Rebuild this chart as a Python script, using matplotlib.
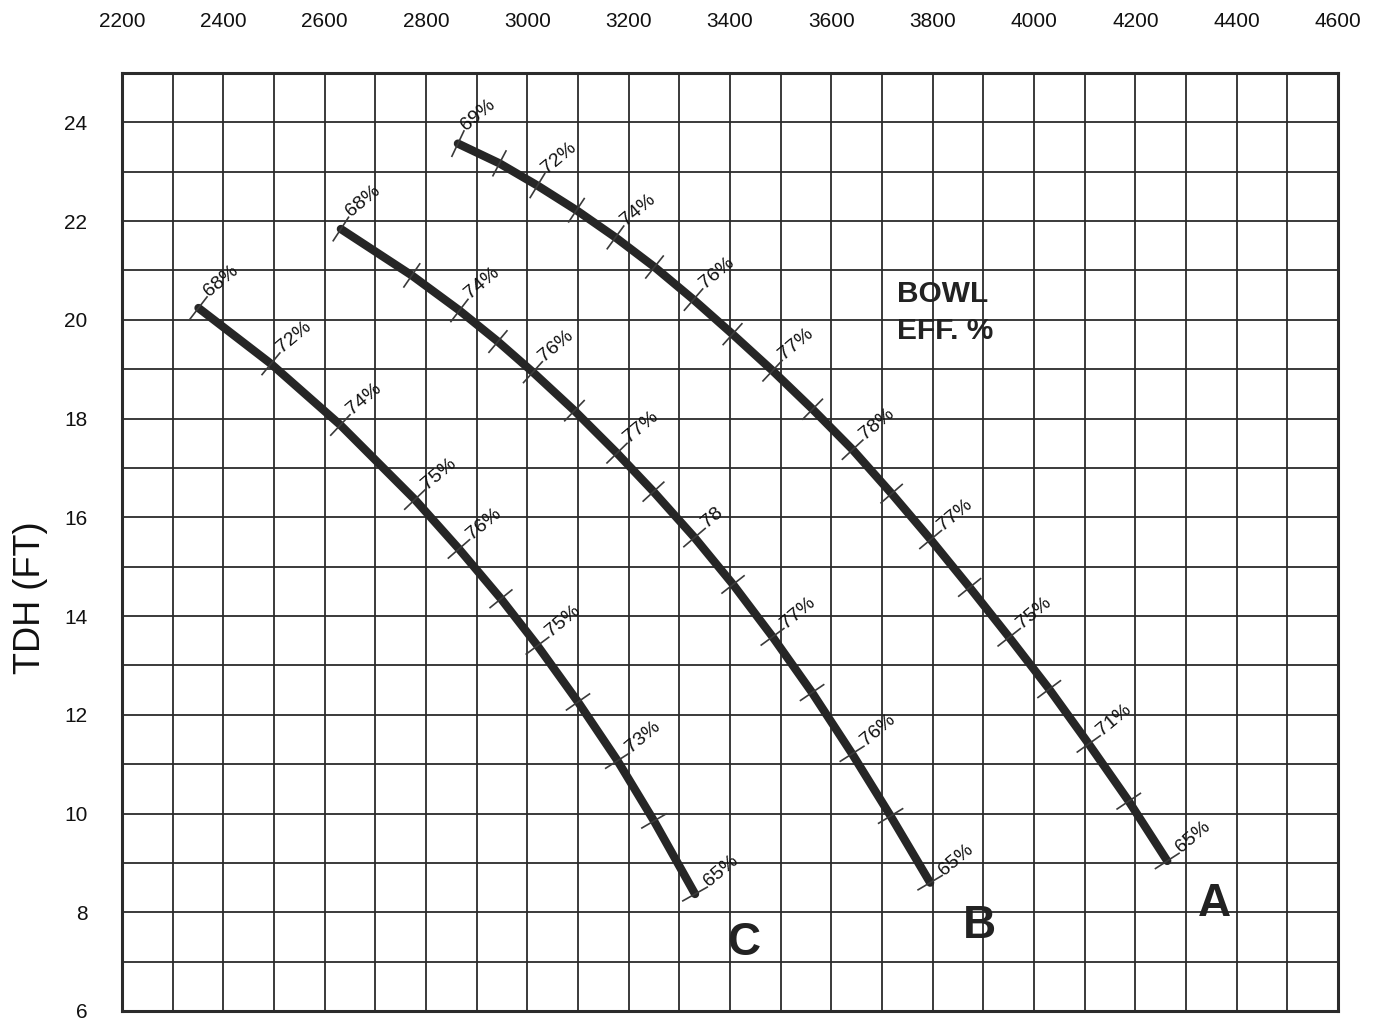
import numpy as np
import matplotlib
matplotlib.use("Agg")
from matplotlib import pyplot as plt
from matplotlib import font_manager

# curve A
flow_a = [2863, 2945, 3020, 3097, 3174, 3251, 3328, 3405, 3484, 3563,
          3642, 3719, 3796, 3873, 3951, 4030, 4108, 4187, 4263]
head_a = [23.57, 23.17, 22.72, 22.22, 21.67, 21.07, 20.41, 19.71, 18.97, 18.19,
          17.37, 16.48, 15.55, 14.58, 13.57, 12.52, 11.41, 10.25, 9.04]
eff_a = ["69%", None, "72%", None, "74%", None, "76%", None, "77%", None,
         "78%", None, "77%", None, "75%", None, "71%", None, "65%"]

# curve B
flow_b = [2632, 2772, 2866, 2942, 3011, 3093, 3177, 3249, 3330, 3406,
          3484, 3562, 3641, 3717, 3795]
head_b = [21.84, 20.90, 20.19, 19.56, 18.94, 18.16, 17.30, 16.52, 15.59, 14.64,
          13.58, 12.45, 11.21, 9.95, 8.60]
eff_b = ["68%", None, "74%", None, "76%", None, "77%", None, "78", None,
         "77%", None, "76%", None, "65%"]

# curve C
flow_c = [2351, 2494, 2631, 2778, 2865, 2948, 3020, 3100, 3178, 3250, 3331]
head_c = [20.24, 19.11, 17.87, 16.36, 15.36, 14.35, 13.40, 12.26, 11.07, 9.85, 8.37]
eff_c = ["68%", "72%", "74%", "75%", "76%", None, "75%", None, "73%", None, "65%"]

x_ticks = list(range(2200, 4601, 200))
y_ticks = list(range(6, 25, 2))

names = {f.name for f in font_manager.fontManager.ttflist}
narrow = "Liberation Sans Narrow" if "Liberation Sans Narrow" in names else "Liberation Sans"

ink = "#2b2b2b"

fig = plt.figure(figsize=(13.77, 10.24), dpi=100)
ax = fig.add_axes([122 / 1377, 13 / 1024, 1216 / 1377, 938 / 1024])
ax.set_xlim(2200, 4600)
ax.set_ylim(6, 25)

# grid paper
for gx in range(2200, 4601, 100):
    ax.axvline(gx, color=ink, lw=1.3, zorder=1)
for gy in range(6, 26):
    ax.axhline(gy, color=ink, lw=1.3, zorder=1)
for s in ax.spines.values():
    s.set_linewidth(2.2)
    s.set_color(ink)

ax.xaxis.tick_top()
ax.set_xticks(x_ticks)
ax.set_yticks(y_ticks)
ax.tick_params(axis="x", length=0, pad=30, labelsize=15)
ax.tick_params(axis="y", length=0, pad=25, labelsize=15)
for lab in ax.get_xticklabels() + ax.get_yticklabels():
    lab.set_family(narrow)
    lab.set_color("#111111")

fig.text(30 / 1377, 1 - 598 / 1024, "TDH (FT)", rotation=90, ha="center",
         va="center", fontsize=26, family="Liberation Sans", color="#111111")


def draw_curve(flow, head, effs):
    flow = np.asarray(flow, float)
    head = np.asarray(head, float)
    ax.plot(flow, head, color="#262626", lw=6, solid_capstyle="round",
            solid_joinstyle="round", zorder=3)

    pts = ax.transData.transform(np.column_stack([flow, head]))
    dx = np.gradient(pts[:, 0])
    dy = np.gradient(pts[:, 1])
    norm = np.hypot(dx, dy)
    # normal pointing up-right
    nx, ny = -dy / norm, dx / norm
    flip = nx < 0
    nx[flip] *= -1
    ny[flip] *= -1

    inv = ax.transData.inverted()
    for i in range(len(flow)):
        p0 = pts[i] - 14 * np.array([nx[i], ny[i]])
        p1 = pts[i] + 14 * np.array([nx[i], ny[i]])
        seg = inv.transform(np.array([p0, p1]))
        ax.plot(seg[:, 0], seg[:, 1], color="#3a3a3a", lw=1.2, zorder=4)
        if effs[i]:
            ax.annotate(effs[i], xy=(flow[i], head[i]),
                        xytext=(nx[i] * 14 + 2, ny[i] * 14),
                        textcoords="offset pixels", rotation=40,
                        rotation_mode="anchor", ha="left", va="baseline",
                        fontsize=14, family=narrow, color="#111111", zorder=5)


draw_curve(flow_a, head_a, eff_a)
draw_curve(flow_b, head_b, eff_b)
draw_curve(flow_c, head_c, eff_c)

ax.text(3730, 20.37, "BOWL", ha="left", va="baseline", fontsize=21.5,
        fontweight="bold", family="Liberation Sans", color="#222222", zorder=5)
ax.text(3730, 19.61, "EFF. %", ha="left", va="baseline", fontsize=21.5,
        fontweight="bold", family="Liberation Sans", color="#222222", zorder=5)

for letter, lx, ly in [("A", 4357, 7.93), ("B", 3893, 7.47), ("C", 3427, 7.14)]:
    ax.text(lx, ly, letter, ha="center", va="baseline", fontsize=33,
            fontweight="bold", family="Liberation Sans", color="#222222", zorder=5)

fig.savefig("out.png", dpi=100, facecolor="white")
